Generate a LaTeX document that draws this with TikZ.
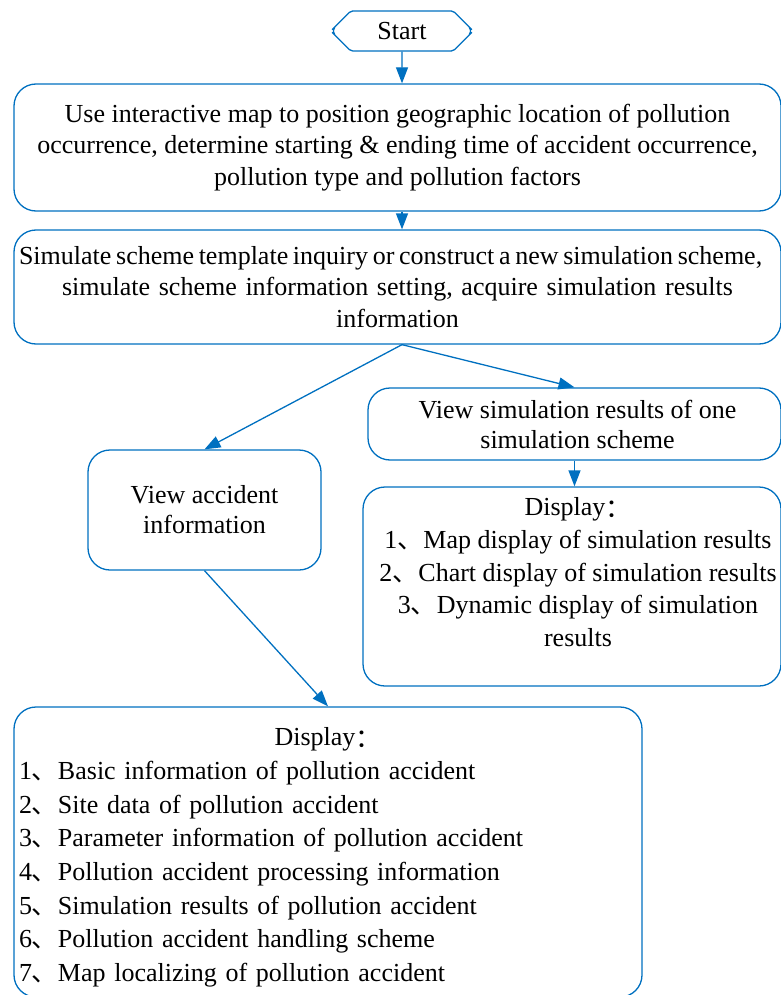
\documentclass[tikz,border=0pt]{standalone}
\usepackage{fontspec}
\setmainfont{Liberation Serif}
\newfontfamily\cjk{Noto Sans CJK SC}
\usetikzlibrary{positioning,arrows.meta,shapes.misc}
\definecolor{FlowBlue}{RGB}{0,112,192}
\newcommand{\dunhao}{{\cjk 、}}
\newcommand{\colonz}{\raisebox{-2pt}{\cjk ：}}

\begin{document}
\begin{tikzpicture}[x=1pt,y=-1pt,
 box/.style={draw=FlowBlue,line width=1.3pt,rounded corners=22pt,align=center,inner sep=4pt,font=\fontsize{26}{31.5}\selectfont},
 term/.style={draw=FlowBlue,line width=1.3pt,line join=round,chamfered rectangle,chamfered rectangle xsep=11pt,chamfered rectangle ysep=17pt,rounded corners=2pt,minimum width=137pt,minimum height=40pt,inner xsep=0pt,inner ysep=-8.5pt,font=\fontsize{26}{31}\selectfont},
 a/.style={-{Triangle[length=16pt,width=12pt]},line width=1.3pt,FlowBlue}]
\useasboundingbox (0,0) rectangle (780,995);
\node[term] (start) at (402,31) {Start};
\node[box,minimum width=767pt,minimum height=127pt] (locate) at (397.5,147.5) {Use interactive map to position geographic location of pollution\\occurrence, determine starting \& ending time of accident occurrence,\\pollution type and pollution factors};
\node[box,minimum width=767pt,minimum height=114pt,text width=759pt] (scheme) at (397.5,287) {\hbox to\hsize{\spaceskip=.18em\hskip1pt Simulate scheme template inquiry or construct a new simulation scheme,\hss}\\simulate scheme information setting, acquire simulation results\\information};
\node[box,minimum width=413pt,minimum height=72pt,font=\fontsize{26}{30}\selectfont] (viewsim) at (574.5,424) {\hspace*{6pt}View simulation results of one\\\hspace*{6pt}simulation scheme};
\node[box,minimum width=418pt,minimum height=199pt,
 label={[anchor=north,align=center,inner sep=2pt,xshift=6pt,yshift=-9pt,font=\fontsize{26}{32.75}\selectfont]north:Display\colonz\\1\dunhao Map display of simulation results\\2\dunhao Chart display of simulation results\\3\dunhao Dynamic display of simulation\\results}] (simdisp) at (572,586.5) {};
\node[box,minimum width=233pt,minimum height=120pt,font=\fontsize{26}{30}\selectfont] (accview) at (204.5,510) {View accident\\information};
\node[box,minimum width=628pt,minimum height=290pt,text width=618pt,align=left,inner sep=5pt,font=\fontsize{26}{33.7}\selectfont] (accdisp) at (328,852) {\hbox to\hsize{\hss\rule{0pt}{29pt}Display\colonz\hss}\\1\dunhao Basic information of pollution accident\\2\dunhao Site data of pollution accident\\3\dunhao Parameter information of pollution accident\\4\dunhao Pollution accident processing information\\5\dunhao Simulation results of pollution accident\\6\dunhao Pollution accident handling scheme\\7\dunhao Map localizing of pollution accident};
\draw[a] (start) -- (start|-locate.north);
\draw[a] (start|-locate.south) -- (start|-scheme.north);
\draw[a] (start|-scheme.south) -- (accview.north);
\draw[a] (start|-scheme.south) -- (viewsim.north);
\draw[a] (viewsim.south) -- (viewsim.south|-simdisp.north);
\draw[a] (accview.south) -- (accdisp.north);
\end{tikzpicture}
\end{document}
